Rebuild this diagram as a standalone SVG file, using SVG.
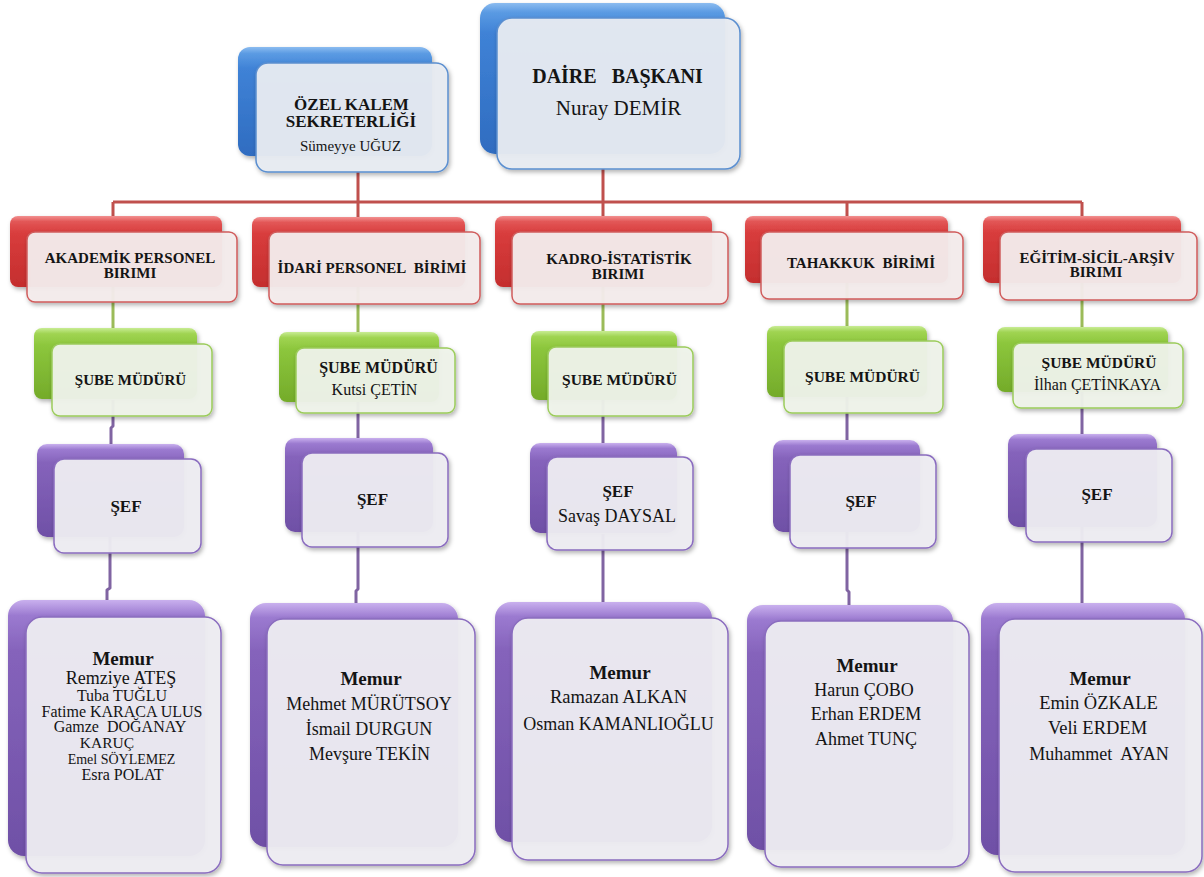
<svg xmlns="http://www.w3.org/2000/svg" width="1204" height="877" viewBox="0 0 1204 877" font-family="'Liberation Serif', 'Times New Roman', 'DejaVu Serif', serif">
<defs>
<linearGradient id="gBlue" x1="0" y1="0" x2="0" y2="1"><stop offset="0" stop-color="#8cbcf0"/><stop offset="0.06" stop-color="#5b9be3"/><stop offset="0.2" stop-color="#3f82d6"/><stop offset="1" stop-color="#2f6cc0"/></linearGradient>
<linearGradient id="gRed" x1="0" y1="0" x2="0" y2="1"><stop offset="0" stop-color="#f29090"/><stop offset="0.08" stop-color="#e25656"/><stop offset="0.25" stop-color="#d83c3c"/><stop offset="1" stop-color="#c42e2e"/></linearGradient>
<linearGradient id="gGreen" x1="0" y1="0" x2="0" y2="1"><stop offset="0" stop-color="#c8ec94"/><stop offset="0.08" stop-color="#a0d452"/><stop offset="0.25" stop-color="#8cc63c"/><stop offset="1" stop-color="#74ab2a"/></linearGradient>
<linearGradient id="gPurple" x1="0" y1="0" x2="0" y2="1"><stop offset="0" stop-color="#c9b0ee"/><stop offset="0.06" stop-color="#9b7ad0"/><stop offset="0.2" stop-color="#8563bb"/><stop offset="1" stop-color="#6f50a6"/></linearGradient>
<filter id="sh" x="-10%" y="-10%" width="130%" height="130%"><feDropShadow dx="1.5" dy="2.5" stdDeviation="2" flood-color="#000" flood-opacity="0.3"/></filter>
</defs>
<style>
.conn{fill:none;stroke-width:3;stroke-linejoin:round}
.cr{stroke:#c0504d}.cg{stroke:#9bbb59}.cp{stroke:#8064a2}
.bb{fill:url(#gBlue);filter:url(#sh)}
.br{fill:url(#gRed);filter:url(#sh)}
.bg{fill:url(#gGreen);filter:url(#sh)}
.bp{fill:url(#gPurple);filter:url(#sh)}
.fb{fill:#e8ecf2;fill-opacity:0.95;stroke:#5b8fd0;stroke-width:1.5;filter:url(#sh)}
.fr{fill:#f4ecec;fill-opacity:0.95;stroke:#d05c5c;stroke-width:1.5;filter:url(#sh)}
.fg{fill:#eff3ea;fill-opacity:0.95;stroke:#9ccc5c;stroke-width:1.5;filter:url(#sh)}
.fp{fill:#eeedf2;fill-opacity:0.95;stroke:#8a6cbf;stroke-width:1.5;filter:url(#sh)}
text{font-family:'Liberation Serif','Times New Roman','DejaVu Serif',serif;fill:#141414;text-anchor:middle}
.b{font-weight:bold}
</style>
<rect x="0" y="0" width="1204" height="877" fill="#ffffff"/>
<g id="connectors">
<path class="conn cr" d="M603 169 V202 M113 202 H1082 M358 172 V202 M113 202 V220 M358 202 V220 M603 202 V220 M847 202 V220 M1082 202 V220"/>
<path class="conn cg" d="M113 286 V330 M358 287 V334 M603 287 V333 M847 282 V327 M1082 283 V329"/>
<path class="conn cp" d="M113 400 V426 l-2 2 V446 M358 400 V440 M603 400 V443 M847 397 V442 M1082 392 V436"/>
<path class="conn cp" d="M110 537 V588 l-3 2 V602 M358 531 V589 l-2 2 V605 M603 534 V604 M847 532 V590 l2 2 V607 M1082 527 V605"/>
</g>
<g id="daire-baskani">
<rect class="bb" x="480" y="3" width="245" height="151" rx="15"/>
<rect class="fb" x="497" y="18" width="243" height="151" rx="15"/>
<text class="b" x="617.5" y="83" font-size="20">DAİRE&#160;&#160; BAŞKANI</text>
<text x="618.5" y="115" font-size="21">Nuray DEMİR</text>
</g>
<g id="ozel-kalem">
<rect class="bb" x="238" y="47" width="194" height="109" rx="12"/>
<rect class="fb" x="256" y="63" width="192" height="109" rx="12"/>
<text class="b" x="351.5" y="110" font-size="17">ÖZEL KALEM</text>
<text class="b" x="351" y="127" font-size="17">SEKRETERLİĞİ</text>
<text x="350.5" y="151" font-size="15">Sümeyye UĞUZ</text>
</g>
<g id="akademik-personel">
<rect class="br" x="10" y="216" width="212" height="71" rx="8"/>
<rect class="fr" x="27" y="232" width="210" height="70" rx="8"/>
<text class="b" x="130" y="263" font-size="15">AKADEMİK PERSONEL</text>
<text class="b" x="130" y="278" font-size="15">BIRIMI</text>
</g>
<g id="idari-personel">
<rect class="br" x="252" y="217" width="213" height="70" rx="8"/>
<rect class="fr" x="269" y="232" width="211" height="72" rx="8"/>
<text class="b" x="372" y="273" font-size="15">İDARİ PERSONEL&#160; BİRİMİ</text>
</g>
<g id="kadro-istatistik">
<rect class="br" x="495" y="216" width="217" height="71" rx="8"/>
<rect class="fr" x="512" y="232" width="216" height="72" rx="8"/>
<text class="b" x="619" y="264" font-size="15">KADRO-İSTATİSTİK</text>
<text class="b" x="618" y="279" font-size="15">BIRIMI</text>
</g>
<g id="tahakkuk">
<rect class="br" x="745" y="216" width="203" height="67" rx="8"/>
<rect class="fr" x="761" y="232" width="202" height="67" rx="8"/>
<text class="b" x="861" y="268" font-size="15">TAHAKKUK&#160; BİRİMİ</text>
</g>
<g id="egitim-sicil-arsiv">
<rect class="br" x="983" y="216" width="198" height="67" rx="8"/>
<rect class="fr" x="1000" y="232" width="197" height="68" rx="8"/>
<text class="b" x="1097" y="263" font-size="15">EĞİTİM-SİCİL-ARŞİV</text>
<text class="b" x="1096" y="277" font-size="15">BIRIMI</text>
</g>
<g id="sube-akademik">
<rect class="bg" x="34" y="328" width="163" height="71" rx="8"/>
<rect class="fg" x="52" y="344" width="160" height="72" rx="8"/>
<text class="b" x="130.5" y="385" font-size="15">ŞUBE MÜDÜRÜ</text>
</g>
<g id="sube-idari">
<rect class="bg" x="279" y="332" width="160" height="70" rx="8"/>
<rect class="fg" x="296" y="348" width="159" height="65" rx="8"/>
<text class="b" x="378.5" y="373" font-size="16">ŞUBE MÜDÜRÜ</text>
<text x="374.5" y="395" font-size="16">Kutsi ÇETİN</text>
</g>
<g id="sube-kadro">
<rect class="bg" x="531" y="331" width="146" height="69" rx="8"/>
<rect class="fg" x="548" y="347" width="145" height="69" rx="8"/>
<text class="b" x="619.5" y="385" font-size="15.5">ŞUBE MÜDÜRÜ</text>
</g>
<g id="sube-tahakkuk">
<rect class="bg" x="767" y="326" width="160" height="71" rx="8"/>
<rect class="fg" x="784" y="341" width="159" height="72" rx="8"/>
<text class="b" x="862.5" y="382" font-size="15.5">ŞUBE MÜDÜRÜ</text>
</g>
<g id="sube-egitim">
<rect class="bg" x="997" y="327" width="171" height="65" rx="8"/>
<rect class="fg" x="1013" y="343" width="170" height="65" rx="8"/>
<text class="b" x="1099" y="368" font-size="15.5">ŞUBE MÜDÜRÜ</text>
<text x="1097.5" y="390" font-size="16">İlhan ÇETİNKAYA</text>
</g>
<g id="sef-akademik">
<rect class="bp" x="37" y="444" width="147" height="93" rx="10"/>
<rect class="fp" x="54" y="459" width="147" height="94" rx="10"/>
<text class="b" x="126" y="512" font-size="17">ŞEF</text>
</g>
<g id="sef-idari">
<rect class="bp" x="285" y="438" width="148" height="94" rx="10"/>
<rect class="fp" x="302" y="453" width="146" height="94" rx="10"/>
<text class="b" x="372.5" y="505" font-size="17">ŞEF</text>
</g>
<g id="sef-kadro">
<rect class="bp" x="530" y="443" width="147" height="90" rx="10"/>
<rect class="fp" x="547" y="457" width="146" height="93" rx="10"/>
<text class="b" x="618" y="497" font-size="17">ŞEF</text>
<text x="617" y="522" font-size="18">Savaş DAYSAL</text>
</g>
<g id="sef-tahakkuk">
<rect class="bp" x="773" y="440" width="147" height="92" rx="10"/>
<rect class="fp" x="790" y="455" width="146" height="93" rx="10"/>
<text class="b" x="861" y="507" font-size="17">ŞEF</text>
</g>
<g id="sef-egitim">
<rect class="bp" x="1008" y="434" width="149" height="93" rx="10"/>
<rect class="fp" x="1026" y="449" width="146" height="93" rx="10"/>
<text class="b" x="1097" y="500" font-size="17">ŞEF</text>
</g>
<g id="memur-akademik">
<rect class="bp" x="8" y="600" width="197" height="256" rx="16"/>
<rect class="fp" x="26" y="617" width="195" height="256" rx="16"/>
<text class="b" x="123" y="665" font-size="19">Memur</text>
<text x="121" y="684" font-size="18">Remziye ATEŞ</text>
<text x="122" y="701" font-size="16">Tuba TUĞLU</text>
<text x="122" y="717" font-size="16">Fatime KARACA ULUS</text>
<text x="120" y="732" font-size="16">Gamze&#160; DOĞANAY</text>
<text x="107" y="748" font-size="15.5">KARUÇ</text>
<text x="121.5" y="764" font-size="14">Emel SÖYLEMEZ</text>
<text x="122.5" y="780" font-size="16">Esra POLAT</text>
</g>
<g id="memur-idari">
<rect class="bp" x="250" y="603" width="208" height="244" rx="16"/>
<rect class="fp" x="267" y="619" width="208" height="246" rx="16"/>
<text class="b" x="371" y="685" font-size="19">Memur</text>
<text x="369" y="710" font-size="18">Mehmet MÜRÜTSOY</text>
<text x="369" y="735" font-size="18">İsmail DURGUN</text>
<text x="369.5" y="760" font-size="18">Mevşure TEKİN</text>
</g>
<g id="memur-kadro">
<rect class="bp" x="495" y="602" width="217" height="240" rx="16"/>
<rect class="fp" x="512" y="618" width="216" height="242" rx="16"/>
<text class="b" x="620" y="679" font-size="19">Memur</text>
<text x="618.5" y="703" font-size="18.5">Ramazan ALKAN</text>
<text x="618.5" y="730" font-size="18">Osman KAMANLIOĞLU</text>
</g>
<g id="memur-tahakkuk">
<rect class="bp" x="747" y="605" width="206" height="245" rx="16"/>
<rect class="fp" x="765" y="621" width="204" height="246" rx="16"/>
<text class="b" x="867" y="672" font-size="19">Memur</text>
<text x="864" y="696" font-size="18">Harun ÇOBO</text>
<text x="866" y="720" font-size="18">Erhan ERDEM</text>
<text x="866" y="745" font-size="18">Ahmet TUNÇ</text>
</g>
<g id="memur-egitim">
<rect class="bp" x="981" y="603" width="204" height="252" rx="16"/>
<rect class="fp" x="999" y="619" width="203" height="253" rx="16"/>
<text class="b" x="1100" y="685" font-size="19">Memur</text>
<text x="1098.5" y="709" font-size="18.5">Emin ÖZKALE</text>
<text x="1097.5" y="734" font-size="18.5">Veli ERDEM</text>
<text x="1099" y="760" font-size="18">Muhammet&#160; AYAN</text>
</g>
</svg>
